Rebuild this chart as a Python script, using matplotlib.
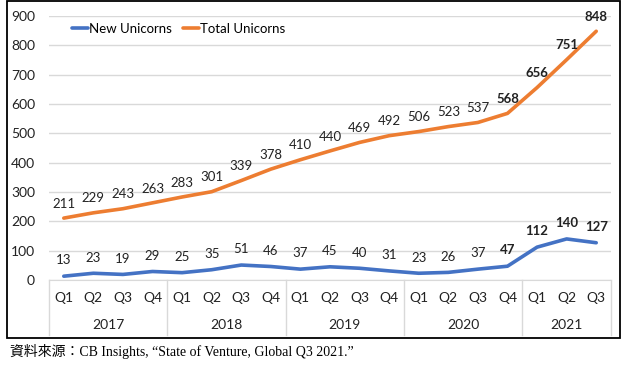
"""New vs total unicorns per quarter, 2017-2021 Q3"""

from matplotlib import pyplot as plt
from matplotlib.patches import Rectangle
import matplotlib.transforms as mtransforms

years = ["2017", "2018", "2019", "2020", "2021"]
quarters_per_year = [4, 4, 4, 4, 3]
new_unicorns = [13, 23, 19, 29, 25, 35, 51, 46, 37, 45, 40, 31, 23, 26, 37, 47, 112, 140, 127]
total_unicorns = [211, 229, 243, 263, 283, 301, 339, 378, 410, 440, 469, 492, 506, 523, 537, 568, 656, 751, 848]
bold_from = 15  # Q4 2020 onwards labels are bold
source_text = "資料來源：CB Insights, “State of Venture, Global Q3 2021.”"

BLUE = "#4472C4"
ORANGE = "#ED7D31"
FONT = "Lato"

quarter_labels = []
for n in quarters_per_year:
    quarter_labels += ["Q%d" % (i + 1) for i in range(n)]
x = list(range(len(quarter_labels)))

fig = plt.figure(figsize=(6.27, 3.70), dpi=100)
ax = fig.add_axes([49 / 627, 90 / 370, 562 / 627, 264 / 370])

ax.plot(x, new_unicorns, color=BLUE, lw=2.6, label="New Unicorns", solid_capstyle="round")
ax.plot(x, total_unicorns, color=ORANGE, lw=2.6, label="Total Unicorns", solid_capstyle="round")

for i, v in enumerate(new_unicorns):
    ax.annotate(str(v), (i, v), xytext=(0, 7), textcoords="offset points", ha="center", va="bottom",
                fontsize=9.5, family=FONT, color="#222222",
                fontweight="bold" if i >= bold_from else "normal")
for i, v in enumerate(total_unicorns):
    ax.annotate(str(v), (i, v), xytext=(0, 6), textcoords="offset points", ha="center", va="bottom",
                fontsize=9.5, family=FONT, color="#222222",
                fontweight="bold" if i >= bold_from else "normal")

ax.set_xlim(-0.5, len(x) - 0.5)
ax.set_ylim(0, 900)
ax.set_yticks(range(0, 1000, 100))
ax.set_xticks(x)
ax.set_xticklabels(quarter_labels)
ax.grid(axis="y", color="#D9D9D9", lw=1)
ax.set_axisbelow(True)
for s in ["top", "right", "left"]:
    ax.spines[s].set_visible(False)
ax.spines["bottom"].set_color("#D9D9D9")
ax.tick_params(axis="both", length=0, labelsize=10, labelcolor="#222222")
ax.tick_params(axis="x", pad=9)
ax.tick_params(axis="y", pad=10)
for lab in ax.get_xticklabels() + ax.get_yticklabels():
    lab.set_family(FONT)

# year groups under the quarter labels
trans = mtransforms.blended_transform_factory(ax.transData, ax.transAxes)
start = -0.5
for year, n in zip(years, quarters_per_year):
    ax.plot([start, start], [0, -0.21], transform=trans, color="#D9D9D9", lw=1, clip_on=False)
    ax.text(start + n / 2, -0.17, year, transform=trans, ha="center", va="center",
            fontsize=10, family=FONT, color="#222222")
    start += n
ax.plot([start, start], [0, -0.21], transform=trans, color="#D9D9D9", lw=1, clip_on=False)

ax.legend(loc="upper left", bbox_to_anchor=(0.02, 1.02), ncol=2, frameon=False,
          handlelength=1.2, handletextpad=0.1, columnspacing=0.8,
          prop={"family": FONT, "size": 9.5})

fig.patches.append(Rectangle((7 / 627, 1 - 338 / 370), 613 / 627, 337 / 370, transform=fig.transFigure,
                             fill=False, edgecolor="black", lw=1.3))
fig.text(10 / 627, 1 - 351 / 370, source_text, ha="left", va="center", fontsize=10,
         family=["Liberation Serif", "Noto Sans CJK TC"], color="black")

fig.savefig("out.png", dpi=100)
